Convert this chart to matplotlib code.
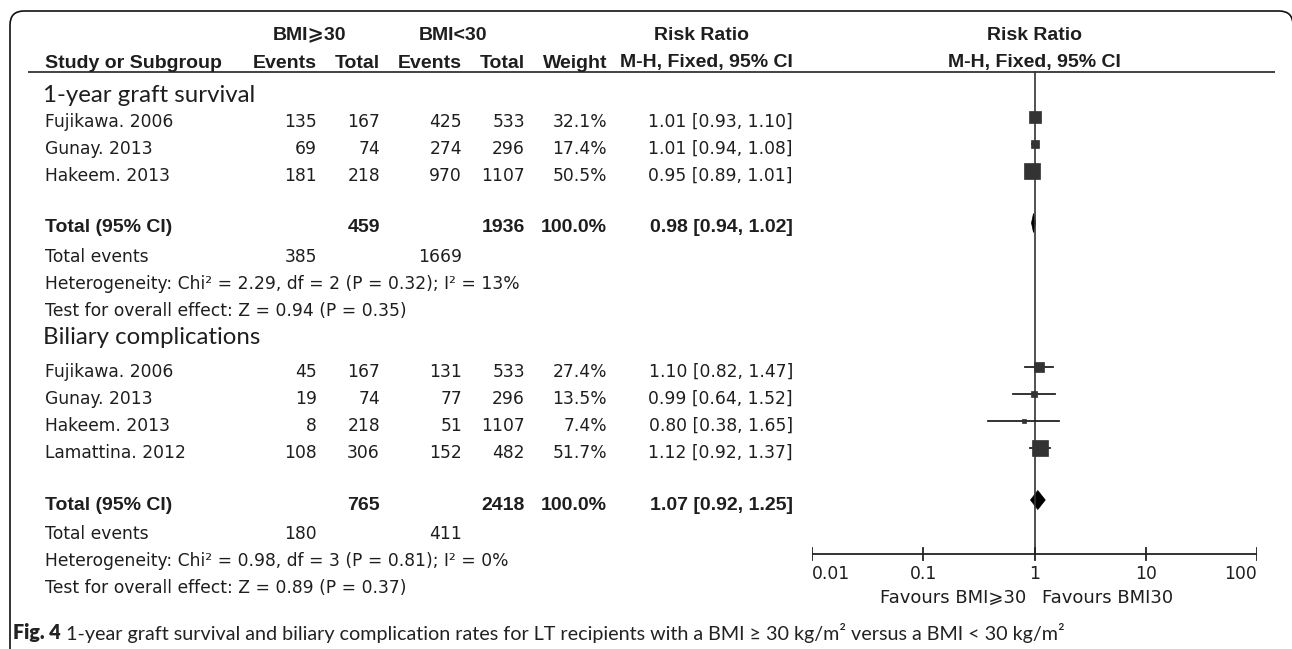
import matplotlib
matplotlib.use("Agg")
import matplotlib.pyplot as plt
from matplotlib.patches import FancyBboxPatch, Polygon

# ---------------- data ----------------
group_titles = ["1-year graft survival", "Biliary complications"]

g1_studies = ["Fujikawa. 2006", "Gunay. 2013", "Hakeem. 2013"]
g1_exp_events = [135, 69, 181]
g1_exp_total = [167, 74, 218]
g1_ctl_events = [425, 274, 970]
g1_ctl_total = [533, 296, 1107]
g1_weight = [32.1, 17.4, 50.5]
g1_rr = [1.01, 1.01, 0.95]
g1_lo = [0.93, 0.94, 0.89]
g1_hi = [1.10, 1.08, 1.01]
g1_total_n = [459, 1936]
g1_total_events = [385, 1669]
g1_total_rr = [0.98, 0.94, 1.02]
g1_het = "Heterogeneity: Chi\u00b2 = 2.29, df = 2 (P = 0.32); I\u00b2 = 13%"
g1_test = "Test for overall effect: Z = 0.94 (P = 0.35)"

g2_studies = ["Fujikawa. 2006", "Gunay. 2013", "Hakeem. 2013", "Lamattina. 2012"]
g2_exp_events = [45, 19, 8, 108]
g2_exp_total = [167, 74, 218, 306]
g2_ctl_events = [131, 77, 51, 152]
g2_ctl_total = [533, 296, 1107, 482]
g2_weight = [27.4, 13.5, 7.4, 51.7]
g2_rr = [1.10, 0.99, 0.80, 1.12]
g2_lo = [0.82, 0.64, 0.38, 0.92]
g2_hi = [1.47, 1.52, 1.65, 1.37]
g2_total_n = [765, 2418]
g2_total_events = [180, 411]
g2_total_rr = [1.07, 0.92, 1.25]
g2_het = "Heterogeneity: Chi\u00b2 = 0.98, df = 3 (P = 0.81); I\u00b2 = 0%"
g2_test = "Test for overall effect: Z = 0.89 (P = 0.37)"

axis_ticks = [0.01, 0.1, 1, 10, 100]
axis_tick_labels = ["0.01", "0.1", "1", "10", "100"]
favours_left = "Favours BMI\u2a7e30"
favours_right = "Favours BMI30"
caption_bold = "Fig. 4"
caption_text = ("1-year graft survival and biliary complication rates for LT recipients "
                "with a BMI \u2265 30 kg/m\u00b2 versus a BMI < 30 kg/m\u00b2")

groups = [
    dict(title=group_titles[0], studies=g1_studies, ee=g1_exp_events, et=g1_exp_total,
         ce=g1_ctl_events, ct=g1_ctl_total, w=g1_weight, rr=g1_rr, lo=g1_lo, hi=g1_hi,
         tn=g1_total_n, tev=g1_total_events, trr=g1_total_rr, het=g1_het, test=g1_test),
    dict(title=group_titles[1], studies=g2_studies, ee=g2_exp_events, et=g2_exp_total,
         ce=g2_ctl_events, ct=g2_ctl_total, w=g2_weight, rr=g2_rr, lo=g2_lo, hi=g2_hi,
         tn=g2_total_n, tev=g2_total_events, trr=g2_total_rr, het=g2_het, test=g2_test),
]

# ---------------- layout (pixels) ----------------
W, H = 1292, 649
TXT = "#1e1e1e"
MARK = "#333333"
REG = dict(family=["DejaVu Sans"], size=12.3, color=TXT)
FAV = dict(family=["DejaVu Sans"], size=13.0, color=TXT)
BOLD = dict(family=["Liberation Sans", "DejaVu Sans"], weight="bold", size=14.0, color=TXT)
TITLE = dict(family=["Lato", "DejaVu Sans"], size=17.3, color=TXT)

X_NAME = 45
X_EE, X_ET, X_CE, X_CT, X_W, X_RR = 317, 380, 462, 525, 607, 793

layouts = [
    dict(title=95, first=122),
    dict(title=338, first=372),
]
ROW = 27
MK_OFF = -5   # markers sit slightly above the text centre line

fig = plt.figure(figsize=(W / 100, H / 100), dpi=100)
ax = fig.add_axes([0, 0, 1, 1])
ax.set_xlim(0, W)
ax.set_ylim(H, 0)
ax.axis("off")

X0_PIX, X1_PIX = 812, 1257
fx = fig.add_axes([X0_PIX / W, 0, (X1_PIX - X0_PIX) / W, 1])
fx.set_xscale("log")
fx.set_xlim(axis_ticks[0], axis_ticks[-1])
fx.set_ylim(H, 0)
fx.axis("off")
fx.patch.set_alpha(0)

# outer rounded frame
frame = FancyBboxPatch((10, 11), 1283, 700, boxstyle="round,pad=0,rounding_size=14",
                       fill=False, edgecolor="#111111", linewidth=1.2, clip_on=True)
ax.add_patch(frame)

# header
ax.text(309, 35, "BMI\u2a7e30", ha="center", va="center", **BOLD)
ax.text(453, 35, "BMI<30", ha="center", va="center", **BOLD)
ax.text(701, 35, "Risk Ratio", ha="center", va="center", **BOLD)
ax.text(X_NAME, 63, "Study or Subgroup", ha="left", va="center", **BOLD)
for x, s in [(X_EE, "Events"), (X_ET, "Total"), (X_CE, "Events"), (X_CT, "Total"),
             (X_W, "Weight"), (X_RR, "M-H, Fixed, 95% CI")]:
    ax.text(x, 63, s, ha="right", va="center", **BOLD)
fx.text(1, 35, "Risk Ratio", ha="center", va="center", **BOLD)
fx.text(1, 63, "M-H, Fixed, 95% CI", ha="center", va="center", **BOLD)
ax.plot([28, 1275], [72, 72], color="#222222", lw=1.2, solid_capstyle="butt")

Y_AXIS = 554
fx.plot([1, 1], [72, Y_AXIS], color=MARK, lw=1.2)

for g, lay in zip(groups, layouts):
    ax.text(43, lay["title"], g["title"], ha="left", va="center", **TITLE)
    ys = [lay["first"] + ROW * i for i in range(len(g["studies"]))]
    for i, y in enumerate(ys):
        ax.text(X_NAME, y, g["studies"][i], ha="left", va="center", **REG)
        for x, v in [(X_EE, g["ee"][i]), (X_ET, g["et"][i]), (X_CE, g["ce"][i]), (X_CT, g["ct"][i])]:
            ax.text(x, y, str(v), ha="right", va="center", **REG)
        ax.text(X_W, y, f"{g['w'][i]:.1f}%", ha="right", va="center", **REG)
        ax.text(X_RR, y, f"{g['rr'][i]:.2f} [{g['lo'][i]:.2f}, {g['hi'][i]:.2f}]",
                ha="right", va="center", **REG)
        ym = y + MK_OFF
        fx.plot([g["lo"][i], g["hi"][i]], [ym, ym], color="#222222", lw=1.3)
        side_px = 3 + 0.25 * g["w"][i]
        fx.plot([g["rr"][i]], [ym], marker="s", ms=side_px * 0.72, color=MARK,
                mec=MARK, mew=0.5, ls="none")
    yt = ys[-1] + 52
    ax.text(X_NAME, yt, "Total (95% CI)", ha="left", va="center", **BOLD)
    ax.text(X_ET, yt, str(g["tn"][0]), ha="right", va="center", **BOLD)
    ax.text(X_CT, yt, str(g["tn"][1]), ha="right", va="center", **BOLD)
    ax.text(X_W, yt, f"{sum(g['w']):.1f}%", ha="right", va="center", **BOLD)
    r, lo, hi = g["trr"]
    ax.text(X_RR, yt, f"{r:.2f} [{lo:.2f}, {hi:.2f}]", ha="right", va="center", **BOLD)
    yd = yt + MK_OFF
    fx.add_patch(Polygon([(lo, yd), (r, yd - 9.5), (hi, yd), (r, yd + 9.5)], closed=True,
                         facecolor="black", edgecolor="black", lw=0.5))
    ye = yt + 29
    ax.text(X_NAME, ye, "Total events", ha="left", va="center", **REG)
    ax.text(X_EE, ye, str(g["tev"][0]), ha="right", va="center", **REG)
    ax.text(X_CE, ye, str(g["tev"][1]), ha="right", va="center", **REG)
    ax.text(X_NAME, ye + 27, g["het"], ha="left", va="center", **REG)
    ax.text(X_NAME, ye + 54, g["test"], ha="left", va="center", **REG)

# bottom axis
fx.plot([axis_ticks[0], axis_ticks[-1]], [Y_AXIS, Y_AXIS], color="#222222", lw=1.3)
n = len(axis_ticks)
for k, (t, lab) in enumerate(zip(axis_ticks, axis_tick_labels)):
    fx.plot([t, t], [Y_AXIS - 6, Y_AXIS + 6], color="#222222", lw=1.3)
    ha = "left" if k == 0 else ("right" if k == n - 1 else "center")
    fx.text(t, 574, lab, ha=ha, va="center", **REG)
fx.text(0.84, 598, favours_left, ha="right", va="center", **FAV)
fx.text(1.18, 598, favours_right, ha="left", va="center", **FAV)

# caption
CAP = dict(family=["Lato", "DejaVu Sans"], size=14.2, color="#222222")
t1 = ax.text(13, 633, caption_bold, ha="left", va="center", weight="heavy", **CAP)
fig.canvas.draw()
bb = t1.get_window_extent()
x_next = bb.x1 + 5
ax.text(x_next, 633, caption_text, ha="left", va="center", **CAP)

fig.savefig("out.png", dpi=100, facecolor="white")
